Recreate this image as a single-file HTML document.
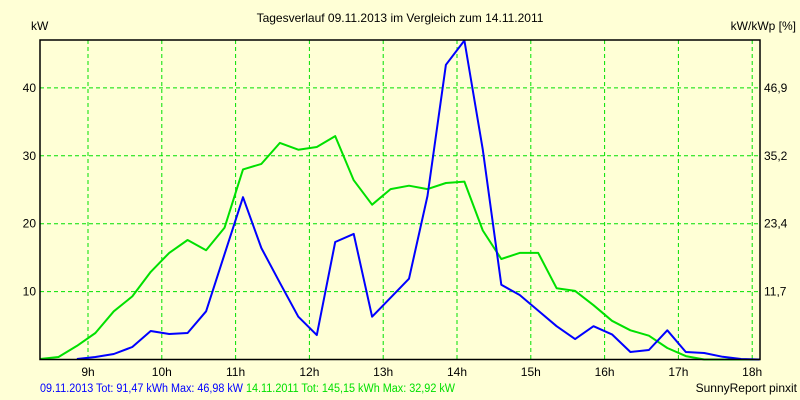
<!DOCTYPE html>
<html><head><meta charset="utf-8"><style>
body{margin:0;background:#ffffd6;}
svg{display:block;font-family:"Liberation Sans",Arial,sans-serif;font-size:12px;}
</style></head><body>
<svg id="c" width="800" height="400">
<rect width="800" height="400" fill="#ffffd6"/>
<text x="400" y="22" text-anchor="middle">Tagesverlauf 09.11.2013 im Vergleich zum 14.11.2011</text>
<text x="31" y="30">kW</text>
<text x="796" y="30" text-anchor="end">kW/kWp [%]</text>
<g id="grid"></g>
<g id="series"></g>
<rect x="40" y="40" width="720" height="319.5" fill="none" stroke="#000" stroke-width="1.5"/>
<g id="labels"></g>
<text x="40" y="392" fill="#0000ff" textLength="203" lengthAdjust="spacingAndGlyphs" style="font-size:11.5px">09.11.2013 Tot: 91,47 kWh Max: 46,98 kW</text>
<text x="246" y="392" fill="#00e000" textLength="209" lengthAdjust="spacingAndGlyphs" style="font-size:11.5px">14.11.2011 Tot: 145,15 kWh Max: 32,92 kW</text>
<text x="797" y="392" text-anchor="end">SunnyReport pinxit</text>
</svg>
<script>
const hourTicks=[9,10,11,12,13,14,15,16,17,18];
const kwTicks=[10,20,30,40];
const pctTicks=["11,7","23,4","35,2","46,9"];
const blueStart=8.85;
const blueValues=[0.07,0.37,0.81,1.84,4.2,3.76,3.9,7.1,15.5,23.9,16.4,11.3,6.3,3.6,17.3,18.5,6.3,9.1,11.9,24.1,43.4,46.98,30.9,11.0,9.5,7.2,4.9,3.0,4.9,3.7,1.1,1.4,4.3,1.1,0.96,0.4,0.07,0];
const greenStart=8.35;
const greenValues=[0.07,0.37,2.0,3.9,7.1,9.3,12.9,15.7,17.6,16.1,19.4,28.0,28.8,31.9,30.9,31.3,32.9,26.4,22.8,25.1,25.6,25.1,26.0,26.2,19.0,14.8,15.7,15.7,10.5,10.1,8.0,5.7,4.3,3.5,1.7,0.5,0,0,0,0];
const step=0.25;
const X=t=>88+(t-9)*73.8;
const Y=v=>359.5-v*6.79;
const NS="http://www.w3.org/2000/svg";
function mk(tag,attrs,parent){const e=document.createElementNS(NS,tag);for(const k in attrs)e.setAttribute(k,attrs[k]);document.getElementById(parent).appendChild(e);return e;}
hourTicks.forEach(h=>{
 const l=mk('line',{x1:X(h),x2:X(h),y1:40,y2:359,stroke:'#00e000','stroke-dasharray':'4,3'},'grid');
 
 
 const t=mk('text',{x:X(h),y:376,'text-anchor':'middle'},'labels');t.textContent=h+'h';
 
 
});
kwTicks.forEach((v,i)=>{
 const l=mk('line',{x1:40,x2:760,y1:Y(v),y2:Y(v),stroke:'#00e000','stroke-dasharray':'4,3'},'grid');
 
 
 const t=mk('text',{x:36,y:Y(v)+4,'text-anchor':'end'},'labels');t.textContent=v;
 
 
 const r=mk('text',{x:764,y:Y(v)+4},'labels');r.textContent=pctTicks[i];
 
 
});
function line(vals,start,color,name){
 const pts=vals.map((v,i)=>X(start+i*step).toFixed(1)+','+Y(v).toFixed(1)).join(' ');
 const p=mk('polyline',{points:pts,fill:'none',stroke:color,'stroke-width':2,'stroke-linejoin':'round'},'series');
 
 
}
line(greenValues,greenStart,'#00e000','line-2011');
line(blueValues,blueStart,'#0000ff','line-2013');
</script>
</body></html>
